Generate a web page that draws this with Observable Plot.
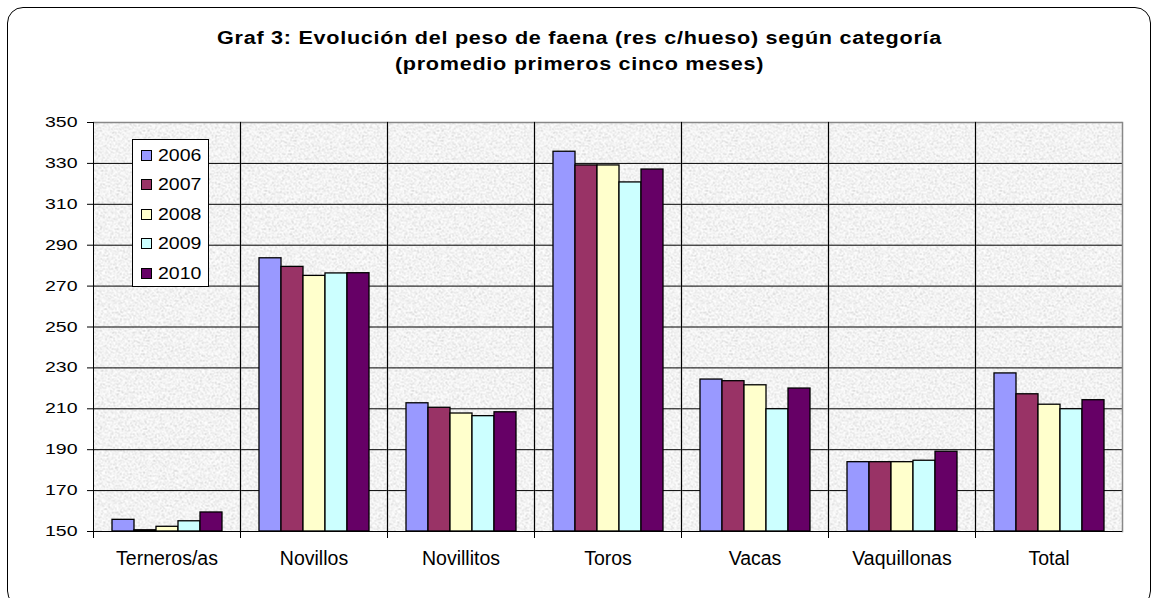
<!DOCTYPE html>
<html>
<head>
<meta charset="utf-8">
<script src="https://cdn.jsdelivr.net/npm/d3@7"></script>
<script src="https://cdn.jsdelivr.net/npm/@observablehq/plot@0.6"></script>
<style>
  html, body { margin: 0; padding: 0; background: #fff; }
  #wrap { position: relative; width: 1159px; height: 598px; overflow: hidden; font-family: "Liberation Sans", Arial, sans-serif; }
  #border { position: absolute; left: 7px; top: 7px; width: 1144px; height: 600px; border: 1px solid #000; border-radius: 16px; box-sizing: border-box; }
  #title { position: absolute; left: 0; top: 25px; width: 1159px; text-align: center; font-weight: bold; font-size: 18px; line-height: 26px; color: #000; }
  #title div { display: block; transform: scaleX(1.2); transform-origin: center; letter-spacing: 0.6px; }
  #chart { position: absolute; left: 0; top: 0; }
  #legend { position: absolute; left: 132px; top: 139px; width: 77px; height: 148px; background: #fff; border: 1px solid #000; box-sizing: border-box; }
  .item { position: absolute; left: 8px; height: 20px; display: flex; align-items: center; font-size: 19.5px; color: #000; }
  .sw { width: 11px; height: 11px; border: 1px solid #000; box-sizing: border-box; margin-right: 6px; }
  .lt { display: inline-block; transform: scaleY(0.8); transform-origin: left center; }
</style>
</head>
<body>
<div id="wrap">
  <div id="border"></div>
  <div id="chart"></div>
  <div id="title"><div>Graf 3: Evolución del peso de faena (res c/hueso) según categoría</div><div>(promedio primeros cinco meses)</div></div>
  <div id="legend"></div>
</div>
<script>
const categories = ["Terneros/as", "Novillos", "Novillitos", "Toros", "Vacas", "Vaquillonas", "Total"];
const years = ["2006", "2007", "2008", "2009", "2010"];
const v2006 = [155.7, 283.6, 212.7, 335.7, 224.3, 183.9, 227.3];
const v2007 = [150.6, 279.4, 210.5, 329.0, 223.5, 183.9, 217.1];
const v2008 = [152.3, 275.0, 207.7, 329.0, 221.5, 183.9, 212.0];
const v2009 = [155.0, 276.2, 206.4, 320.7, 209.8, 184.6, 209.8];
const v2010 = [159.3, 276.3, 208.3, 327.0, 219.9, 189.0, 214.2];
const colors = ["#9999FF", "#993366", "#FFFFCC", "#CCFFFF", "#660066"];
const yTicks = [150, 170, 190, 210, 230, 250, 270, 290, 310, 330, 350];
const yMin = 150, yMax = 350;

const series = [v2006, v2007, v2008, v2009, v2010];
const data = [];
categories.forEach((c, i) => years.forEach((y, j) => data.push({category: c, year: y, value: series[j][i]})));

const chart = Plot.plot({
  width: 1159,
  height: 598,
  marginTop: 122,
  marginBottom: 67,
  marginLeft: 93,
  marginRight: 37,
  style: {fontFamily: "Liberation Sans, Arial, sans-serif", fontSize: "19.5px", color: "#000", background: "transparent"},
  fx: {domain: categories, padding: 0, label: null, axis: "bottom", tickSize: 0, tickPadding: 20},
  x: {domain: years, paddingInner: 0, paddingOuter: 0.75, axis: null},
  y: {domain: [yMin, yMax], ticks: yTicks, tickSize: 6, tickPadding: 10, label: null},
  color: {domain: years, range: colors},
  marks: [
    Plot.frame({fill: "url(#granite)", stroke: null}),
    Plot.ruleY(yTicks.filter(t => t > yMin && t < yMax), {stroke: "#000", strokeWidth: 1}),
    Plot.ruleY([yMax], {stroke: "#888", strokeWidth: 1.5}),
    Plot.frame({anchor: "right", stroke: "#888", strokeWidth: 1.5}),
    Plot.frame({anchor: "left", stroke: "#000", strokeWidth: 1, insetBottom: -6}),
    Plot.barY(data, {fx: "category", x: "year", y1: yMin, y2: "value", fill: "year", stroke: "#000", strokeWidth: 1.3}),
    Plot.ruleY([yMin], {stroke: "#000", strokeWidth: 1})
  ]
});

d3.select(chart).insert("defs", ":first-child").html(`
  <filter id="noise" x="0" y="0" width="100%" height="100%">
    <feTurbulence type="fractalNoise" baseFrequency="0.6" numOctaves="3" seed="7" stitchTiles="stitch"/>
    <feColorMatrix type="matrix" values="0.9 0 0 0 0.45  0.9 0 0 0 0.45  0.9 0 0 0 0.45  0 0 0 0 1"/>
  </filter>
  <pattern id="granite" patternUnits="userSpaceOnUse" width="200" height="200">
    <rect width="200" height="200" fill="#e6e6e6"/>
    <rect width="200" height="200" filter="url(#noise)"/>
  </pattern>`);

// squash y tick labels vertically, as in the reference
d3.select(chart).selectAll('g[aria-label="y-axis tick label"] text').each(function() {
  const t = d3.select(this);
  const tr = t.attr("transform");
  if (tr) {
    t.attr("transform", tr + " scale(1,0.73)");
  } else {
    const x = +t.attr("x") || 0, y = +t.attr("y") || 0;
    t.attr("x", null).attr("y", null).attr("transform", `translate(${x},${y}) scale(1,0.73)`);
  }
});
document.getElementById("chart").appendChild(chart);

const legend = document.getElementById("legend");
years.forEach((y, j) => {
  const it = document.createElement("div");
  it.className = "item";
  it.style.top = (5 + j * 29.5) + "px";
  it.innerHTML = `<span class="sw" style="background:${colors[j]}"></span><span class="lt">${y}</span>`;
  legend.appendChild(it);
});
</script>
</body>
</html>
